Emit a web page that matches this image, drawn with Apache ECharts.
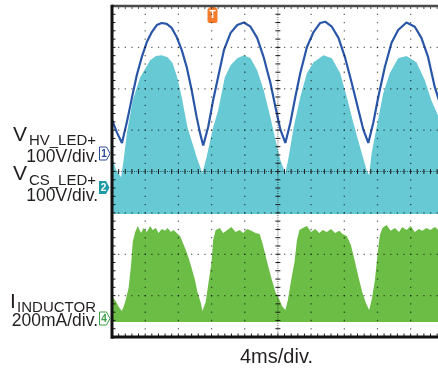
<!DOCTYPE html>
<html>
<head>
<meta charset="utf-8">
<script src="https://cdn.jsdelivr.net/npm/echarts@6/dist/echarts.min.js"></script>
<style>
  html, body { margin: 0; padding: 0; background: #ffffff; }
  #scope { width: 438px; height: 371px; }
</style>
</head>
<body>
<div id="scope"></div>
<script>
// ---- Channel 1: V_HV_LED+ (volts) ----
const hvTimeMs = [0,0.6,1.2,1.8,2.4,3.0,3.6,4.2,4.8,5.4,6.0,6.6,7.2,7.8,8.4,9.0,9.6,10.2,10.6,11.0,
  11.6,12.2,12.8,13.5,14.3,15.1,15.9,16.7,17.5,18.3,19.1,19.7,20.3,20.9,21.5,22.1,22.7,23.5,24.3,25.1,
  25.7,26.5,27.3,28.1,28.9,29.7,30.3,30.9,31.5,32.1,32.9,33.7,34.5,35.5,36.5,37.3,38.1,38.9,39.4];
const hvVolts = [81,50,25,76,134,190,233,269,293,310,315,313,303,281,250,209,153,88,50,19,
  64,129,185,250,291,310,316,306,279,231,170,112,57,25,74,136,194,257,293,315,
  318,306,279,231,170,105,57,25,74,136,209,267,298,316,306,279,233,161,129];

// ---- Channel 2: V_CS_LED+ switching envelope (volts) ----
const csTimeMs = [0,0.5,1.1,1.4,1.8,2.5,3.4,4.6,5.3,6.0,6.7,7.3,7.9,8.4,9.1,10.2,10.9,11.4,12.2,12.8,
  13.6,14.3,15.1,15.9,16.7,17.5,18.3,19.1,19.7,20.3,20.9,21.3,21.9,22.7,23.5,24.3,25.5,26.5,27.5,28.3,
  29.1,29.9,30.7,31.0,31.3,31.9,32.7,33.5,34.5,35.5,36.7,37.7,38.5,39.4];
const csTopVolts = [74,42,25,66,132,211,267,308,318,320,315,301,264,219,146,74,35,74,146,187,
  267,296,313,320,313,284,235,170,115,66,35,74,146,219,277,303,320,313,277,219,
  156,98,42,30,83,146,228,277,313,318,303,260,211,170];
const csFloorVolts = -64;

// ---- Channel 4: I_INDUCTOR switching envelope (mA) ----
const indTimeMs = [0,0.5,0.8,1.2,1.6,2.0,2.3,2.5,2.8,3.1,3.5,3.8,4.2,4.6,4.9,5.3,5.6,6.0,6.4,6.7,
  7.1,7.4,7.8,8.2,8.5,8.9,9.2,9.6,10.0,10.3,10.7,10.9,11.3,11.6,12.0,12.2,12.5,
  13.0,13.4,13.9,14.4,14.9,15.4,15.8,16.3,16.8,17.3,17.8,18.2,18.7,19.2,19.7,20.2,20.5,20.9,21.2,21.6,22.0,22.3,22.6,
  23.0,23.5,24.0,24.5,25.0,25.4,25.9,26.4,26.9,27.4,27.8,28.3,28.8,29.3,29.8,30.2,30.6,31.0,31.3,31.7,32.0,32.3,32.6,
  33.1,33.6,34.1,34.6,35.0,35.5,36.0,36.5,37.0,37.4,37.9,38.4,38.9,39.4];
const indTopMilliamps = [109,80,56,36,80,147,258,369,418,447,413,437,418,447,427,437,413,432,423,437,
  418,427,413,398,369,331,297,244,186,128,75,36,80,162,273,379,427,
  437,413,427,442,418,427,413,432,423,413,408,355,273,196,128,89,60,41,89,186,273,379,427,
  437,447,418,432,413,427,418,432,413,423,408,398,355,273,186,123,75,41,89,186,307,403,437,
  451,423,437,418,442,427,447,418,432,423,437,427,442,427];
const indFloorMilliamps = -17;

// ---- Scope settings ----
const MS_PER_DIV = 4, V_DIVS = 8;
const VISIBLE_MS = 39.3;            // the window shows a little under 10 divisions
const ch1 = { perDiv: 100, offsetDiv: 0.44 };
const ch2 = { perDiv: 100, offsetDiv: -0.39 };
const ch4 = { perDiv: 200, offsetDiv: -3.55 };
const toDiv = (v, ch) => v / ch.perDiv + ch.offsetDiv;

const FONT = '"Liberation Sans", Arial, Helvetica, sans-serif';

// filled switching trace: top envelope down to a constant floor
function bandSeries(name, times, tops, floor, ch, color, z) {
  const pts = times.map((t, i) => [t, toDiv(tops[i], ch)]);
  const floorDiv = toDiv(floor, ch);
  return {
    name, type: 'custom', z, silent: true,
    data: [[times[0], floorDiv]],
    renderItem(params, api) {
      const poly = pts.map(p => api.coord(p));
      poly.push(api.coord([times[times.length - 1], floorDiv]));
      poly.push(api.coord([times[0], floorDiv]));
      return { type: 'polygon', shape: { points: poly }, style: { fill: color } };
    }
  };
}

// graticule: dotted divisions, ticked centre lines, ticked frame
const graticule = {
  type: 'custom', z: 10, silent: true, data: [[0, 0]],
  renderItem(params, api) {
    const kids = [];
    const xMax = VISIBLE_MS, yMin = -V_DIVS / 2, yMax = V_DIVS / 2;
    const minorX = MS_PER_DIV / 5;
    const dotStyle = { fill: 'rgba(0,0,0,0.6)' };
    const dot = (p) => kids.push({ type: 'rect', shape: { x: p[0] - 0.6, y: p[1] - 0.6, width: 1.3, height: 1.3 }, style: dotStyle });
    const line = (a, b, style) => kids.push({ type: 'line', shape: { x1: a[0], y1: a[1], x2: b[0], y2: b[1] }, style });
    const xc = 5 * MS_PER_DIV;
    // vertical division lines
    for (let t = MS_PER_DIV; t <= xMax; t += MS_PER_DIV) {
      if (t === xc) continue;
      for (let k = 0; k <= V_DIVS * 5; k++) dot(api.coord([t, yMin + k * 0.2]));
    }
    // horizontal division lines
    for (let j = 1; j < V_DIVS; j++) {
      if (j === V_DIVS / 2) continue;
      for (let k = 0; k * minorX <= xMax; k++) dot(api.coord([k * minorX, yMin + j]));
    }
    const tickStyle = { stroke: '#1a1a1a', lineWidth: 1 };
    const fine = { stroke: 'rgba(0,0,0,0.6)', lineWidth: 1, lineDash: [1, 1.2] };
    // centre horizontal
    line(api.coord([0, 0]), api.coord([xMax, 0]), fine);
    for (let k = 0; k * minorX <= xMax; k++) {
      const p = api.coord([k * minorX, 0]);
      line([p[0], p[1] - 2.5], [p[0], p[1] + 2.5], tickStyle);
    }
    // centre vertical
    line(api.coord([xc, yMin]), api.coord([xc, yMax]), fine);
    for (let k = 0; k <= V_DIVS * 5; k++) {
      const p = api.coord([xc, yMin + k * 0.2]);
      line([p[0] - 2.5, p[1]], [p[0] + 2.5, p[1]], tickStyle);
    }
    // frame ticks
    for (let k = 1; k < V_DIVS * 5; k++) {
      const p = api.coord([0, yMin + k * 0.2]);
      line([p[0], p[1]], [p[0] + 3.5, p[1]], tickStyle);
    }
    for (let k = 1; k * minorX <= xMax; k++) {
      const b = api.coord([k * minorX, yMin]);
      line([b[0], b[1]], [b[0], b[1] - 3.5], tickStyle);
      const t = api.coord([k * minorX, yMax]);
      line([t[0], t[1]], [t[0], t[1] + 3], { stroke: '#555', lineWidth: 1 });
    }
    // frame
    line(api.coord([0, yMax]), api.coord([xMax, yMax]), { stroke: '#4a4a4a', lineWidth: 2.5 });
    line(api.coord([0, yMin]), api.coord([xMax, yMin]), { stroke: '#111', lineWidth: 3 });
    line(api.coord([0, yMin - 0.04]), api.coord([0, yMax + 0.03]), { stroke: '#111', lineWidth: 3 });
    return { type: 'group', children: kids };
  }
};

function marker(label, x, yMid, color, filled) {
  const pts = [[x, yMid - 6.5], [x + 7, yMid - 6.5], [x + 10.5, yMid], [x + 7, yMid + 6.5], [x, yMid + 6.5]];
  return [
    { type: 'polygon', shape: { points: pts }, style: filled ? { fill: color } : { fill: '#fff', stroke: color, lineWidth: 1 } },
    { type: 'text', x: x + 4.5, y: yMid + 0.5, style: { text: label, font: 'bold 10px ' + FONT, fill: filled ? '#fff' : color, align: 'center', verticalAlign: 'middle', textAlign: 'center', textVerticalAlign: 'middle' } }
  ];
}

function txt(text, x, y, size, align) {
  return { type: 'text', x, y, style: { text, font: size + 'px ' + FONT, fill: '#231f20', align, verticalAlign: 'middle', textAlign: align, textVerticalAlign: 'middle' } };
}

const chart = echarts.init(document.getElementById('scope'), null, { renderer: 'canvas' });
chart.setOption({
  animation: false,
  backgroundColor: '#ffffff',
  grid: { left: 112, top: 6, right: 0, height: 331, containLabel: false },
  xAxis: { type: 'value', min: 0, max: VISIBLE_MS, show: false },
  yAxis: { type: 'value', min: -V_DIVS / 2, max: V_DIVS / 2, interval: 1, show: false },
  series: [
    bandSeries('V_CS_LED+', csTimeMs, csTopVolts, csFloorVolts, ch2, '#66c9d4', 2),
    bandSeries('I_INDUCTOR', indTimeMs, indTopMilliamps, indFloorMilliamps, ch4, '#6cbd46', 2),
    {
      name: 'V_HV_LED+', type: 'line', z: 4, showSymbol: false, silent: true,
      data: hvTimeMs.map((t, i) => [t, toDiv(hvVolts[i], ch1)]),
      lineStyle: { color: '#2a56a8', width: 2.2 }
    },
    graticule
  ],
  graphic: [
    txt('V', 13, 135, 21, 'left'),
    txt('HV_LED+', 96, 141, 15, 'right'),
    txt('100V/div.', 98, 157.5, 17.5, 'right'),
    txt('V', 13, 174.5, 21, 'left'),
    txt('CS_LED+', 96, 180.5, 15, 'right'),
    txt('100V/div.', 98, 196.5, 17.5, 'right'),
    txt('I', 10, 302, 21, 'left'),
    txt('INDUCTOR', 96, 308, 15, 'right'),
    txt('200mA/div.', 98, 321, 17.5, 'right'),
    txt('4ms/div.', 240, 357.5, 20, 'left'),
    ...marker('1', 99.5, 153.5, '#2b4a9b', false),
    ...marker('2', 99, 187.5, '#1d9aa6', true),
    ...marker('4', 99.5, 318.5, '#3a9f45', false),
    { type: 'rect', shape: { x: 209.5, y: 5, width: 6, height: 4 }, style: { fill: '#f47c2c' } },
    { type: 'rect', shape: { x: 207.5, y: 8, width: 10, height: 15, r: 2 }, style: { fill: '#f47c2c' } },
    { type: 'text', x: 212.5, y: 15.5, style: { text: 'T', font: 'bold 10px ' + FONT, fill: '#fff', align: 'center', verticalAlign: 'middle', textAlign: 'center', textVerticalAlign: 'middle' } }
  ]
});
</script>
</body>
</html>
